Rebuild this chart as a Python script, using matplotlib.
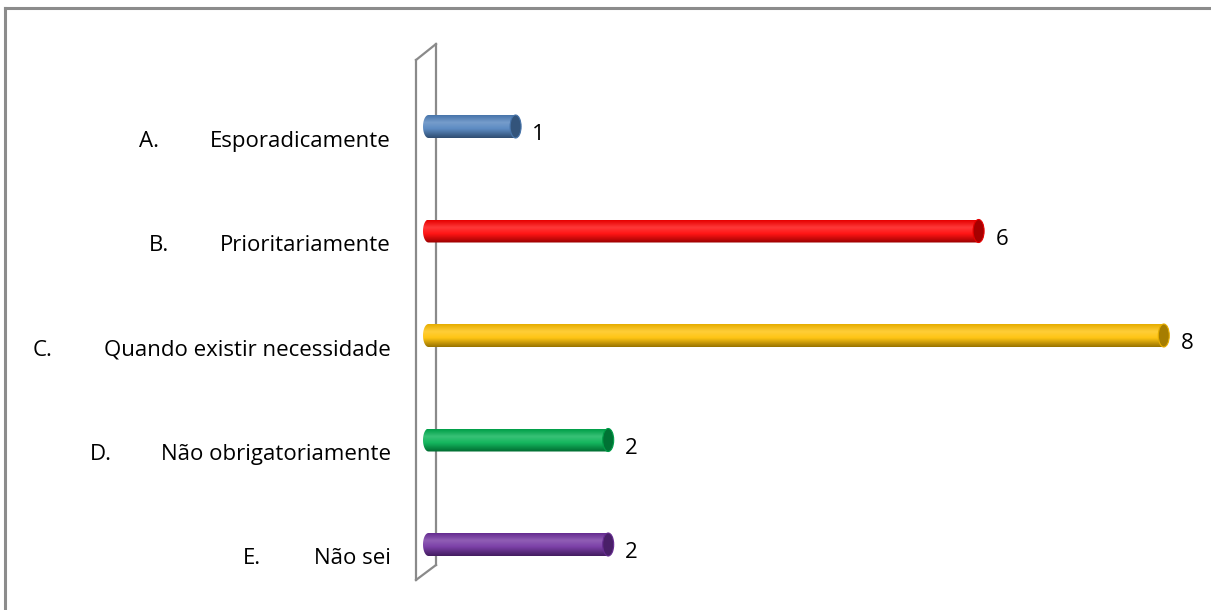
import matplotlib
matplotlib.use("Agg")
import matplotlib.pyplot as plt
import numpy as np
from matplotlib.colors import LinearSegmentedColormap, to_rgb
from matplotlib.patches import Ellipse, PathPatch
from matplotlib.path import Path
from matplotlib.lines import Line2D

# answer letters, answer texts and how many people picked each
letters = ["A.", "B.", "C.", "D.", "E."]
answers = ["Esporadicamente", "Prioritariamente", "Quando existir necessidade",
           "Não obrigatoriamente", "Não sei"]
counts = [1, 6, 8, 2, 2]
bar_colors = ["#4F81BD", "#FF0000", "#FFC000", "#00B050", "#7030A0"]

plt.rcParams['font.family'] = ['Open Sans', 'DejaVu Sans']
FS = 16

W, H = 1211, 610
fig = plt.figure(figsize=(W / 100, H / 100), dpi=100)


def fx(px):
    return px / W


def fy(py):
    return 1 - py / H


# axes placed so that 0 sits next to the wall
px_unit_x, px_unit_y = 92.6, 104.5
ax_left, ax_right, ax_top, ax_bot = 423, 1200, 40, 590
ax = fig.add_axes([fx(ax_left), fy(ax_bot), fx(ax_right - ax_left), (ax_bot - ax_top) / H])
ax.set_xlim(0, (ax_right - ax_left) / px_unit_x)
ax.set_ylim(4 + (590 - 544.5) / px_unit_y, -(126.5 - 40) / px_unit_y)
ax.axis('off')

# outer chart frame (top and left edges)
for xs, ys in [([fx(5), 1], [fy(8), fy(8)]), ([fx(5), fx(5)], [fy(8), 0])]:
    fig.add_artist(Line2D(xs, ys, color='#8c8c8c', lw=2.2))

# thin 3d wall behind the bars
wall = [((416, 60), (416, 580)), ((436, 44), (436, 565)),
        ((416, 60), (436, 44)), ((416, 580), (436, 565))]
for (x0, y0), (x1, y1) in wall:
    fig.add_artist(Line2D([fx(x0), fx(x1)], [fy(y0), fy(y1)], color='#8a8a8a', lw=1.6, zorder=0))


def shade(c, k):
    r = np.array(to_rgb(c))
    if k >= 0:
        return tuple(r + (1 - r) * k)
    return tuple(r * (1 + k))


a = 5.5 / px_unit_x     # half width of the end ellipse
b = 11.5 / px_unit_y    # bar radius
for i, (v, c) in enumerate(zip(counts, bar_colors)):
    cmap = LinearSegmentedColormap.from_list(
        'cyl', [(0, shade(c, -0.1)), (0.32, shade(c, 0.22)),
                (0.6, shade(c, 0.08)), (1, shade(c, -0.4))])
    grad = np.linspace(0, 1, 64).reshape(-1, 1)
    t = np.linspace(np.pi / 2, 3 * np.pi / 2, 30)
    verts = [(a + a * np.cos(tt), i - b * np.sin(tt)) for tt in t]
    verts += [(v, i + b), (v, i - b), verts[0]]
    clip = PathPatch(Path(verts, closed=True), transform=ax.transData, facecolor='none', edgecolor='none')
    ax.add_patch(clip)
    im = ax.imshow(grad, cmap=cmap, aspect='auto', extent=[0, v, i + b, i - b],
                   interpolation='bilinear', zorder=2)
    im.set_clip_path(clip)
    ax.add_patch(Ellipse((v, i), 2 * a, 2 * b, facecolor=shade(c, -0.35),
                         edgecolor=shade(c, -0.1), lw=0.8, zorder=3))
    ax.text(v + 0.18, i + 13.5 / px_unit_y, str(v), va='baseline', ha='left',
            fontsize=FS, color='black')

# category labels: answer right-aligned near the wall, letter a fixed step left of it
label_dy = 20 / px_unit_y
label_texts = [ax.text(-0.35, i + label_dy, s, va='baseline', ha='right', fontsize=FS)
               for i, s in enumerate(answers)]

fig.canvas.draw()
rend = fig.canvas.get_renderer()
inv = ax.transData.inverted()
for i, txt in enumerate(label_texts):
    bb = txt.get_window_extent(rend)
    x_letter = inv.transform((bb.x0 - 71, 0))[0]
    ax.text(x_letter, i + label_dy, letters[i], va='baseline', ha='left', fontsize=FS)

fig.savefig("out.png", dpi=100)
